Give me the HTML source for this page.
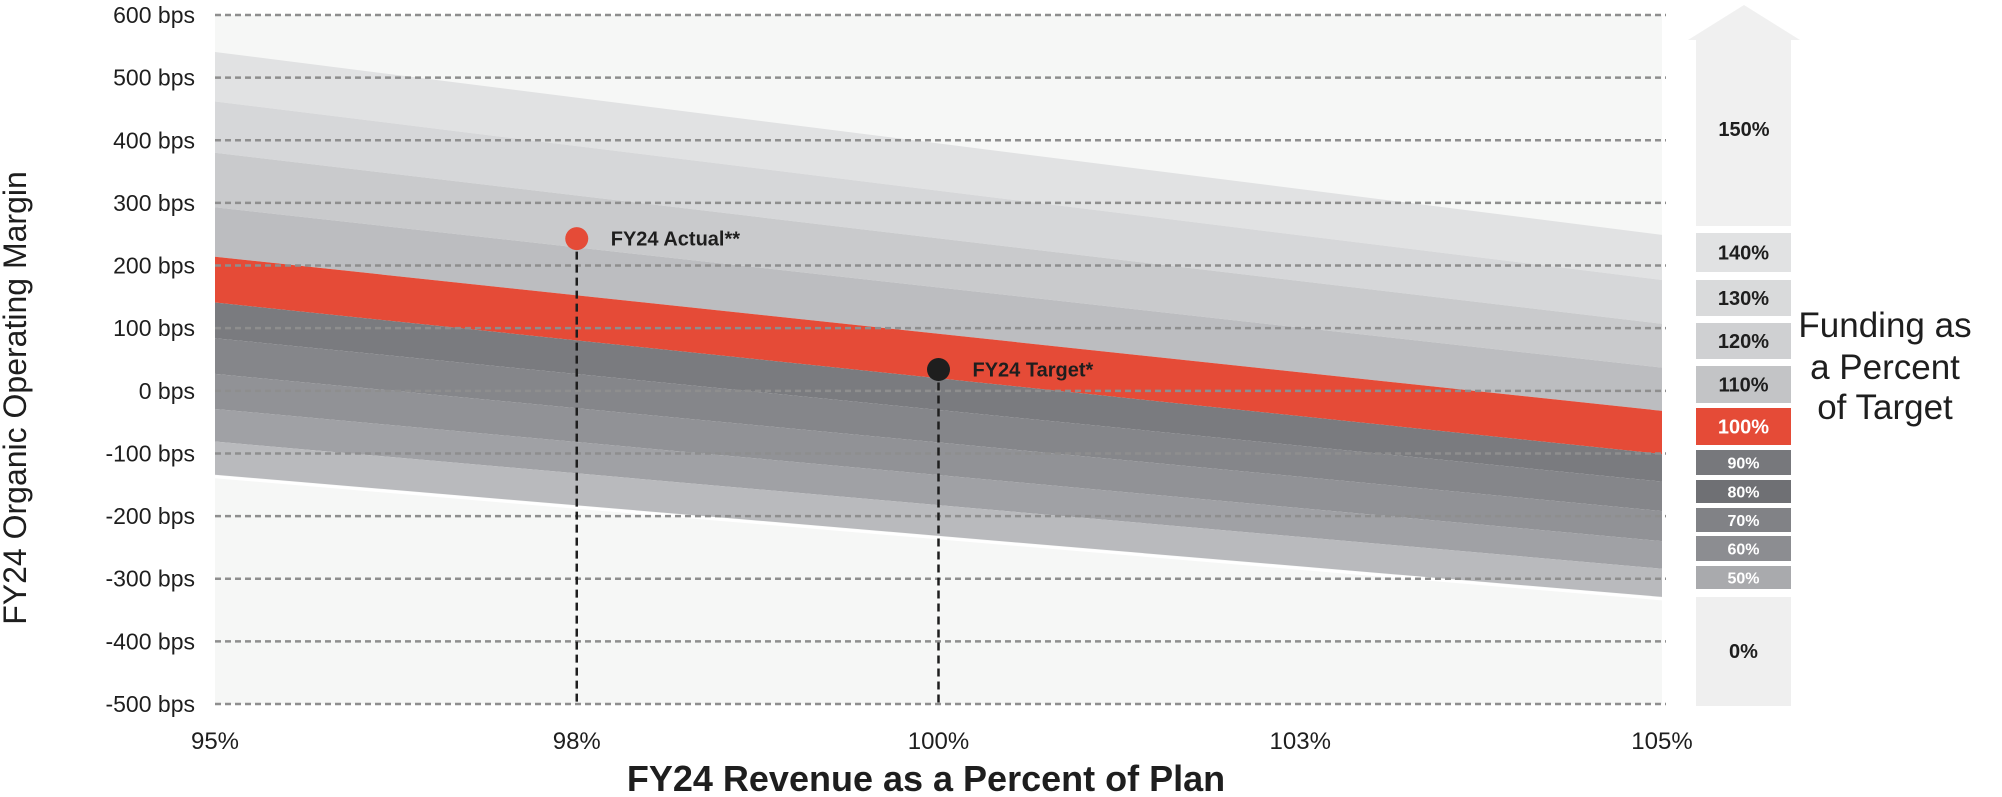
<!DOCTYPE html>
<html><head><meta charset="utf-8"><style>
html,body{margin:0;padding:0;background:#fff;}
svg{display:block;font-family:"Liberation Sans",sans-serif;}
</style></head><body>
<svg id="chart" width="2002" height="797" viewBox="0 0 2002 797" xmlns="http://www.w3.org/2000/svg"></svg>
<script>
const xCategories = ["95%","98%","100%","103%","105%"];
const yTicks = [600,500,400,300,200,100,0,-100,-200,-300,-400,-500];
const bandLabels = ["140%","130%","120%","110%","100%","90%","80%","70%","60%","50%"];
const boundaryLeft = [541,462,380,293,214,141,84,27,-29,-81,-134];
const boundaryRight = [249,177,107,37,-32,-101,-145,-192,-240,-284,-329];
const bandColors = ["#e1e2e3","#d6d7d9","#c9cacc","#bcbdc0","#e54b37","#7a7b7f","#85868a","#919296","#a0a1a5","#b9babd"];
const pointNames = ["FY24 Actual**","FY24 Target*"];
const pointX = [1,2];
const pointY = [243,34];
const pointColors = ["#e54b37","#1e1e1e"];

const svg = document.getElementById('chart');
const NS = "http://www.w3.org/2000/svg";
const X0=215, X1=1662, Y0=15, Y1=704;
function xs(i){ return X0 + i*(X1-X0)/(xCategories.length-1); }
function ys(v){ return Y0 + (600-v)*(Y1-Y0)/1100; }
function mk(tag, attrs, parent){ const e=document.createElementNS(NS,tag); for(const k in attrs) e.setAttribute(k,attrs[k]); (parent||svg).appendChild(e); return e; }

let bg = mk('rect',{x:X0,y:Y0,width:X1-X0,height:Y1-Y0,fill:'#f6f7f6'});



for(let i=0;i<bandLabels.length;i++){
  const p = mk('polygon',{points:`${X0},${ys(boundaryLeft[i])} ${X1},${ys(boundaryRight[i])} ${X1},${ys(boundaryRight[i+1])} ${X0},${ys(boundaryLeft[i+1])}`,fill:bandColors[i]});
  
  
}
const n=boundaryLeft.length-1;
let wl = mk('line',{x1:X0,y1:ys(boundaryLeft[n])+2,x2:X1,y2:ys(boundaryRight[n])+2,stroke:'#fff','stroke-width':3});



yTicks.forEach(v=>{
  const g = mk('line',{x1:X0,y1:ys(v),x2:X1+4,y2:ys(v),stroke:'#8e8e8e','stroke-width':2.5,'stroke-dasharray':'6,4'});
  
  
  const t = mk('text',{x:195,y:ys(v)+8,'text-anchor':'end','font-size':23,fill:'#1e1e1e'});
  t.textContent = v+' bps';
  
  
});

xCategories.forEach((c,i)=>{
  const t = mk('text',{x:xs(i),y:749,'text-anchor':'middle','font-size':24,fill:'#1e1e1e'});
  t.textContent=c;
  
  
});

pointNames.forEach((nm,i)=>{
  const px=xs(pointX[i]), py=ys(pointY[i]);
  const l = mk('line',{x1:px,y1:py,x2:px,y2:Y1,stroke:'#1e1e1e','stroke-width':2.5,'stroke-dasharray':'8,5'});
  
  
  const c = mk('circle',{cx:px,cy:py,r:11.5,fill:pointColors[i]});
  
  
  const t = mk('text',{x:px+34,y:py+7,'font-size':20,'font-weight':'bold',fill:'#1e1e1e'});
  t.textContent=nm;
  
  
});

let yt = mk('text',{x:0,y:0,transform:'translate(26,398) rotate(-90)','text-anchor':'middle','font-size':32,fill:'#1e1e1e'});
yt.textContent='FY24 Organic Operating Margin';


let xt = mk('text',{x:926,y:791,'text-anchor':'middle','font-size':36,'font-weight':'bold',fill:'#1e1e1e'});
xt.textContent='FY24 Revenue as a Percent of Plan';



const LX=1696, LW=95;
let ar = mk('polygon',{points:`1744,5 1800,40 1791,40 1791,226 1696,226 1696,40 1688,40`,fill:'#f0f0f0'});


let t150 = mk('text',{x:1744,y:136,'text-anchor':'middle','font-size':20,'font-weight':'bold',fill:'#1e1e1e'});
t150.textContent='150%';


const boxTop=[233,280,323,366,408,450,480,508,536,566];
const boxBot=[272,316,359,403,445,475,503,532,561,589];
const boxFill=["#e1e2e3","#d9dadb","#cfd0d2","#c3c4c6","#e54b37","#77787c","#6f7074","#818286","#8c8d91","#a9aaad"];
bandLabels.forEach((lab,i)=>{
  const r = mk('rect',{x:LX,y:boxTop[i],width:LW,height:boxBot[i]-boxTop[i],fill:boxFill[i]});
  
  
  const big = i<5;
  const t = mk('text',{x:LX+LW/2,y:(boxTop[i]+boxBot[i])/2+(big?7:6),'text-anchor':'middle','font-size':big?20:16,'font-weight':'bold',fill:i<4?'#1e1e1e':'#fff'});
  t.textContent=lab;
  
  
});
let z = mk('rect',{x:LX,y:597,width:LW,height:109,fill:'#efefef'});


let zt = mk('text',{x:LX+LW/2,y:658,'text-anchor':'middle','font-size':20,'font-weight':'bold',fill:'#1e1e1e'});
zt.textContent='0%';



const titleBase=[337,379,419];
["Funding as","a Percent","of Target"].forEach((s,i)=>{
  const t = mk('text',{x:1885,y:titleBase[i],'text-anchor':'middle','font-size':35,fill:'#1e1e1e'});
  t.textContent=s;
  
  
});
</script>
</body></html>
